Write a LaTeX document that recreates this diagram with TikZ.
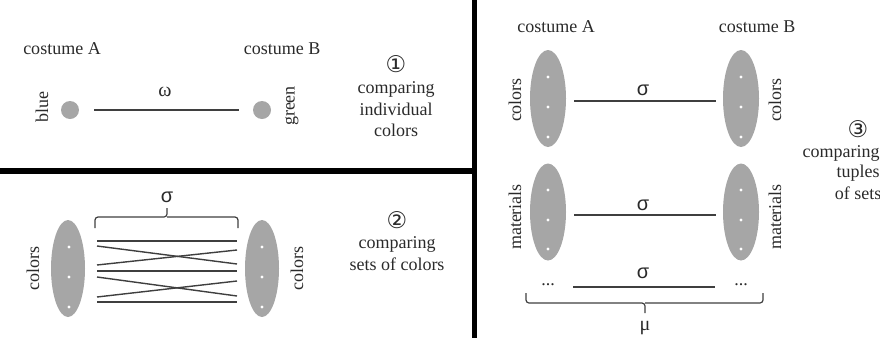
\documentclass[tikz,border=0pt]{standalone}
\usepackage{fontspec}
\setmainfont{Liberation Serif}
\newfontfamily\sigfont{Liberation Sans}
\newfontfamily\symfont{DejaVu Sans}
\usetikzlibrary{shapes.geometric}
\definecolor{txt}{HTML}{2A2A2A}
\definecolor{setgray}{HTML}{A6A6A6}
\definecolor{linec}{HTML}{3F3F3F}
\begin{document}
\begin{tikzpicture}[x=1pt,y=-1pt,
  every node/.style={text=txt,font=\fontsize{18}{20}\selectfont,inner sep=0pt},
  setell/.style={ellipse,fill=setgray,draw=none,minimum width=36pt,minimum height=97pt},
  elem/.style={circle,fill=setgray,draw=none,minimum size=18pt},
  conn/.style={draw=linec,line width=1.4pt},
  bracestyle/.style={draw=linec,line width=1.2pt,rounded corners=3pt},
  divider/.style={draw=black,line width=5.5pt},
  vlabel/.style={rotate=90},
  greek/.style={font=\fontsize{20}{20}\sigfont},
  circnum/.style={font=\fontsize{23}{23}\symfont}]
\useasboundingbox (0,0) rectangle (880,338);

% dividers
\coordinate (hd1) at (0,171);
\coordinate (hd2) at (474.5,171);
\coordinate (vd1) at (474.5,0);
\coordinate (vd2) at (474.5,338);
\draw[divider] (hd1) -- (hd2);
\draw[divider] (vd1) -- (vd2);

% ---------- panel 1 ----------
\node (cA1) at (62,49) {costume A};
\node (cB1) at (282,49) {costume B};
\node[elem] (blueel) at (70,110) {};
\node[elem] (greenel) at (262,110) {};
\node[vlabel] (lblue) at (42,107) {blue};
\node[vlabel] (lgreen) at (292,106) {green};
\coordinate (w1) at (94,110);
\coordinate (w2) at (239,110);
\draw[conn] (w1) -- (w2);
\node[font=\fontsize{20}{20}\selectfont] (omega) at (165,92) {ω};
\node[circnum] (n1) at (396,64) {①};
\node (t1a) at (396,89) {comparing};
\node (t1b) at (396,109) {individual};
\node (t1c) at (396,130) {colors};

% ---------- panel 2 ----------
\node[greek] (sig2) at (167,197) {σ};
\node[setell,minimum width=34pt] (S2L) at (68,268.5) {};
\node[setell,minimum width=34pt] (S2R) at (262,268.5) {};
\foreach \y in {247,277,307} {
  \fill[white] (69,\y) circle (1.6);
  \fill[white] (262,\y) circle (1.6);
}
\node[vlabel] (lc2L) at (33,268) {colors};
\node[vlabel] (lc2R) at (297,268) {colors};
\coordinate (b2a) at (95,228);
\coordinate (b2b) at (238,228);
\coordinate (b2t) at (167,208);
\draw[bracestyle] (b2a) |- (b2t |- 0,217) -- (b2t);
\draw[bracestyle] (b2b) |- (b2t |- 0,217);
% pairwise lines
\coordinate (p1a) at (97,241); \coordinate (p1b) at (237,241);
\coordinate (p2a) at (97,246); \coordinate (p2b) at (237,264);
\coordinate (p3a) at (97,265); \coordinate (p3b) at (237,250);
\coordinate (p4a) at (97,271); \coordinate (p4b) at (237,271);
\coordinate (p5a) at (97,277); \coordinate (p5b) at (237,296);
\coordinate (p6a) at (97,297); \coordinate (p6b) at (237,281);
\coordinate (p7a) at (97,302); \coordinate (p7b) at (237,302);
\foreach \i in {1,...,7} { \draw[conn] (p\i a) -- (p\i b); }
\node[circnum] (n2) at (397,220) {②};
\node (t2a) at (397,244) {comparing};
\node (t2b) at (397,264) {sets of colors};

% ---------- panel 3 ----------
\node (cA3) at (556,27) {costume A};
\node (cB3) at (757,27) {costume B};
\node[setell] (S3L1) at (548,98.5) {};
\node[setell] (S3R1) at (741,98.5) {};
\node[setell] (S3L2) at (548,212) {};
\node[setell] (S3R2) at (741,212) {};
\foreach \y in {77,107,137} {
  \fill[white] (548,\y) circle (1.6);
  \fill[white] (741,\y) circle (1.6);
}
\foreach \y in {190,220,249} {
  \fill[white] (548,\y) circle (1.6);
  \fill[white] (741,\y) circle (1.6);
}
\node[vlabel] (lc3L) at (515,100) {colors};
\node[vlabel] (lc3R) at (775,100) {colors};
\node[vlabel] (lm3L) at (515,217) {materials};
\node[vlabel] (lm3R) at (775,217) {materials};
\node[greek] (sig3a) at (643,90) {σ};
\coordinate (q1a) at (574,101); \coordinate (q1b) at (716,101);
\draw[conn] (q1a) -- (q1b);
\node[greek] (sig3b) at (643,205) {σ};
\coordinate (q2a) at (574,215); \coordinate (q2b) at (716,215);
\draw[conn] (q2a) -- (q2b);
\node[greek] (sig3c) at (643,273) {σ};
\node (dotsL) at (548,285) {...};
\node (dotsR) at (741,285) {...};
\coordinate (q3a) at (573,287); \coordinate (q3b) at (715,287);
\draw[conn] (q3a) -- (q3b);
\coordinate (b3a) at (526,293);
\coordinate (b3b) at (763,293);
\coordinate (b3t) at (645,313);
\draw[bracestyle] (b3a) |- (b3t |- 0,303) -- (b3t);
\draw[bracestyle] (b3b) |- (b3t |- 0,303);
\node[font=\fontsize{20}{20}\selectfont] (mu) at (645,328) {μ};
\node[circnum] (n3) at (858,129) {③};
\node (t3a) at (841,153) {comparing};
\node (t3b) at (858,173) {tuples};
\node (t3c) at (858,193) {of sets};
\end{tikzpicture}
\end{document}
